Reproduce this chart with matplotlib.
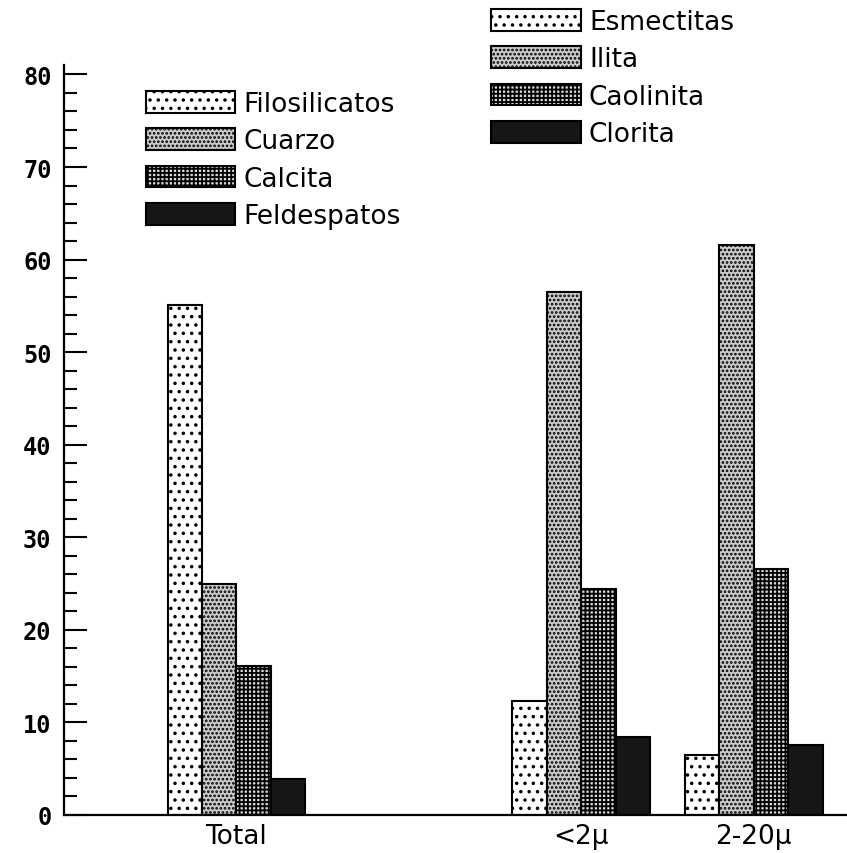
import numpy as np
import matplotlib
matplotlib.use("Agg")
import matplotlib.pyplot as plt
from matplotlib.patches import Patch

# data
groups = ["Total", "<2\u00b5", "2-20\u00b5"]
group_pos = [5, 15, 20]

total_labels = ["Filosilicatos", "Cuarzo", "Calcita", "Feldespatos"]
total_values = [55.1, 25.0, 16.1, 3.9]

clay_labels = ["Esmectitas", "Ilita", "Caolinita", "Clorita"]
clay_lt2 = [12.3, 56.5, 24.4, 8.4]
clay_2_20 = [6.5, 61.6, 26.6, 7.6]

# fill styles (face colour, hatch)
styles = [
    ("white", ".."),
    ("#cbcbcb", "...."),
    ("#d8d8d8", "++++"),
    ("#161616", None),
]

plt.rcParams["hatch.linewidth"] = 1.3

fig = plt.figure(figsize=(8.47, 8.54), dpi=100)
ax = fig.add_axes([0.0756, 0.0445, 0.9244, 0.878])

offsets = [-1.5, -0.5, 0.5, 1.5]
series = [total_values, clay_lt2, clay_2_20]
for g, vals in zip(group_pos, series):
    for off, v, (fc, h) in zip(offsets, vals, styles):
        ax.bar(g + off, v, width=1.0, facecolor=fc, edgecolor="black",
               hatch=h, linewidth=1.5)

ax.set_xlim(0, 22.7)
ax.set_ylim(0, 81)

for s in ["top", "right"]:
    ax.spines[s].set_visible(False)
for s in ["left", "bottom"]:
    ax.spines[s].set_linewidth(1.6)

ax.set_yticks(np.arange(0, 81, 10))
ax.set_yticks(np.arange(0, 81, 2), minor=True)
ax.tick_params(axis="y", which="major", direction="in", length=16.5, width=1.5, pad=9)
ax.tick_params(axis="y", which="minor", direction="in", length=9.4, width=1.5)
for lab in ax.get_yticklabels():
    lab.set_fontfamily("DejaVu Sans Mono")
    lab.set_fontweight("bold")
    lab.set_fontsize(17)

ax.set_xticks(group_pos)
ax.set_xticklabels(groups, fontsize=19)
ax.tick_params(axis="x", length=0, pad=6)

def handles(labels):
    return [Patch(facecolor=fc, edgecolor="black", hatch=h, linewidth=1.5, label=l)
            for l, (fc, h) in zip(labels, styles)]

leg_kw = dict(loc="upper left", frameon=False, fontsize=19,
              handlelength=3.4, handleheight=0.9, labelspacing=0.42,
              handletextpad=0.3, borderpad=0, borderaxespad=0)
leg1 = fig.legend(handles=handles(total_labels), bbox_to_anchor=(0.172, 0.892), **leg_kw)
leg2 = fig.legend(handles=handles(clay_labels), bbox_to_anchor=(0.58, 0.988), **leg_kw)

fig.savefig("out.png", dpi=100)
